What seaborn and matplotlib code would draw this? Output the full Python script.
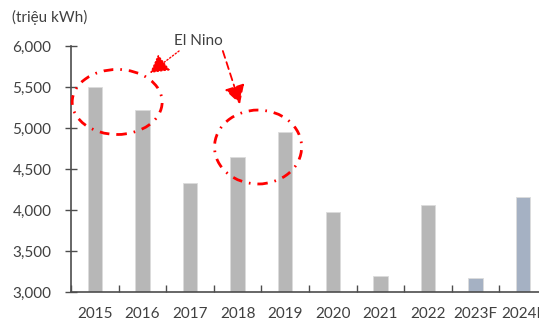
import matplotlib
matplotlib.use("Agg")
import matplotlib.pyplot as plt
from matplotlib.patches import Ellipse
from matplotlib.ticker import FixedLocator, FuncFormatter
import seaborn as sns
import pandas as pd

years = ["2015", "2016", "2017", "2018", "2019", "2020", "2021", "2022", "2023F", "2024F"]
output = [5500, 5220, 4330, 4650, 4950, 3980, 3195, 4065, 3175, 4160]
kind = ["actual"] * 8 + ["forecast"] * 2

df = pd.DataFrame({"year": years, "output": output, "kind": kind})

sns.set_theme(style="white")
plt.rcParams["font.family"] = ["Lato", "DejaVu Sans"]
text_color = "#404040"
spine_color = "#4d4d4d"

fig = plt.figure(figsize=(5.39, 3.2), dpi=100)
ax = fig.add_axes([71 / 539, 28 / 320, 476 / 539, 246 / 320])

sns.barplot(data=df, x="year", y="output", hue="kind", dodge=False, width=0.3,
            palette={"actual": "#b7b7b7", "forecast": "#a0b0c8"},
            edgecolor="#dcdcdc", linewidth=0.6, legend=False, ax=ax)

ax.set_ylim(3000, 6000)
ax.set_xlim(-0.5, len(years) - 0.5)
ax.set_xlabel("")
ax.set_ylabel("")

ax.yaxis.set_major_locator(FixedLocator([3000, 3500, 4000, 4500, 5000, 5500, 6000]))
ax.yaxis.set_major_formatter(FuncFormatter(lambda v, p: f"{int(v):,}"))
ax.tick_params(axis="y", direction="inout", length=8, width=1, color=spine_color,
               labelsize=11, labelcolor=text_color, pad=10, left=True)
ax.tick_params(axis="x", which="major", length=0, labelsize=11,
               labelcolor=text_color, pad=11)
ax.set_xticks([i - 0.5 for i in range(len(years))], minor=True)
ax.tick_params(axis="x", which="minor", direction="in", length=5, width=1,
               color=spine_color, bottom=True)

for side in ["top", "right"]:
    ax.spines[side].set_visible(False)
for side in ["left", "bottom"]:
    ax.spines[side].set_color(spine_color)
    ax.spines[side].set_linewidth(1.2)

fig.text(12 / 539, 1 - 17 / 320, "(triệu kWh)", fontsize=11, color=text_color,
         ha="left", va="center")

# El Nino years circled
dashdot = (0, (3.5, 2.5, 0.6, 2.5))
for cx, cy, w, h in [(0.47, 5317, 1.89, 793), (3.43, 4768, 1.83, 902)]:
    ax.add_patch(Ellipse((cx, cy), w, h, fill=False, edgecolor="#ff0000",
                         linewidth=2.0, linestyle=dashdot, zorder=5, clip_on=False))

ax.text(2.17, 6065, "El Nino", fontsize=11, color=text_color, ha="center",
        va="center", zorder=6)
ax.annotate("", xy=(1.16, 5671), xytext=(1.77, 5939), annotation_clip=False,
            arrowprops=dict(arrowstyle="-|>,head_length=0.8,head_width=0.45",
                            color="#ff0000", linewidth=1.0, linestyle=(0, (1, 1.5)),
                            mutation_scale=14, shrinkA=0, shrinkB=0))
ax.annotate("", xy=(3.05, 5293), xytext=(2.69, 5939), annotation_clip=False,
            arrowprops=dict(arrowstyle="-|>,head_length=0.8,head_width=0.45",
                            color="#ff0000", linewidth=1.3, linestyle=(0, (4, 2.5)),
                            mutation_scale=14, shrinkA=0, shrinkB=0))

fig.savefig("out.png", dpi=100)
